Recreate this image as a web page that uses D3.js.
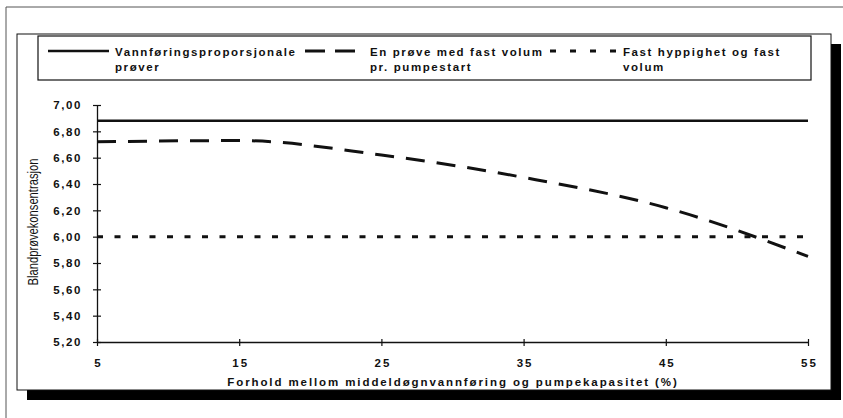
<!DOCTYPE html>
<html>
<head>
<meta charset="utf-8">
<script src="https://cdn.jsdelivr.net/npm/d3@7"></script>
<style>
  html, body { margin: 0; padding: 0; background: #fff; overflow: hidden; }
  #wrap { position: relative; width: 843px; height: 418px; }
  #shadow { position: absolute; left: 27px; top: 44px; width: 814px; height: 356px; background: #000; }
  svg { position: absolute; left: 0; top: 0; display: block; }
</style>
</head>
<body>
<div id="wrap"><div id="shadow"></div></div>
<script>
// chart size
var width = 843, height = 418;

// data
var xValues = [5, 15, 25, 35, 45, 55];
var proportional = [6.88, 6.88, 6.88, 6.88, 6.88, 6.88];   // Vannføringsproporsjonale prøver
var perPumpStart = [6.72, 6.73, 6.62, 6.45, 6.22, 5.85];   // En prøve med fast volum pr. pumpestart
var fixedFreq = [6.00, 6.00, 6.00, 6.00, 6.00, 6.00];      // Fast hyppighet og fast volum
var yTicks = [5.2, 5.4, 5.6, 5.8, 6.0, 6.2, 6.4, 6.6, 6.8, 7.0];
var legendLabels = [
  ["Vannføringsproporsjonale", "prøver"],
  ["En prøve med fast volum", "pr. pumpestart"],
  ["Fast hyppighet og fast", "volum"]
];
var xTitle = "Forhold mellom middeldøgnvannføring og pumpekapasitet (%)";
var yTitle = "Blandprøvekonsentrasjon";

var font = "'Liberation Sans', Arial, sans-serif";

var svg = d3.select("#wrap").append("svg")
    .attr("width", width)
    .attr("height", height);

// shadow strips (also in svg)
svg.append("rect").attr("x", 831).attr("y", 44)
    .attr("width", 10).attr("height", 356)
    .attr("fill", "#000");
svg.append("rect").attr("x", 27).attr("y", 390)
    .attr("width", 814).attr("height", 10)
    .attr("fill", "#000");

// white panel
svg.append("rect").attr("x", 17).attr("y", 34)
    .attr("width", 814).attr("height", 356)
    .attr("fill", "#fff")
    .attr("stroke", "#111");

// outer thin frame (top + left only)
svg.append("path")
    .attr("d", "M6,418V7H843")
    .attr("fill", "none")
    .attr("stroke", "#555")
    .attr("stroke-width", 1);

// scales
var x = d3.scaleLinear().domain([5, 55]).range([97, 808]);
var y = d3.scaleLinear().domain([5.2, 7.0]).range([342, 105]);

// y axis
var yAxis = svg.append("g")
    .attr("transform", "translate(97,0)")
    .call(d3.axisLeft(y)
        .tickValues(yTicks)
        .tickSizeOuter(0)
        .tickFormat(function (d) { return d3.format(".2f")(d).replace(".", ","); }));
yAxis.select(".domain").attr("stroke", "#111").attr("stroke-width", 1.3);
yAxis.selectAll(".tick line").attr("x1", -4).attr("x2", 4).attr("stroke", "#111").attr("stroke-width", 1.2);
yAxis.selectAll(".tick text")
    .attr("x", -15)
    .attr("fill", "#111")
    .style("font-size", "11.5px")
    .style("font-weight", "bold")
    .style("letter-spacing", "1.6px")
    .style("font-family", font);

// x axis
var xAxis = svg.append("g")
    .attr("transform", "translate(0,342)")
    .call(d3.axisBottom(x)
        .tickValues(xValues)
        .tickSizeOuter(0)
        .tickFormat(d3.format("d")));
xAxis.select(".domain").attr("stroke", "#111").attr("stroke-width", 1.3);
xAxis.selectAll(".tick line").attr("y1", -3).attr("y2", 4).attr("stroke", "#111").attr("stroke-width", 1.2);
xAxis.selectAll(".tick text")
    .attr("y", 25)
    .attr("dy", null)
    .attr("dx", "1px")
    .attr("fill", "#111")
    .style("font-size", "11.5px")
    .style("font-weight", "bold")
    .style("letter-spacing", "2px")
    .style("font-family", font);

// axis titles
svg.append("text")
    .attr("x", 453)
    .attr("y", 386)
    .attr("text-anchor", "middle")
    .attr("fill", "#111")
    .style("font-family", font)
    .style("font-size", "11.5px")
    .style("font-weight", "bold")
    .style("letter-spacing", "1.9px")
    .text(xTitle);

svg.append("text")
    .attr("transform", "translate(38,222) rotate(-90) scale(0.8,1)")
    .attr("text-anchor", "middle")
    .attr("fill", "#111")
    .style("font-family", font)
    .style("font-size", "14px")
    .text(yTitle);

// series lines
var rows = xValues.map(function (d, i) {
  return { x: d, a: proportional[i], b: perPumpStart[i], c: fixedFreq[i] };
});

var lineA = d3.line().x(function (d) { return x(d.x); }).y(function (d) { return y(d.a); });
var lineB = d3.line().x(function (d) { return x(d.x); }).y(function (d) { return y(d.b); })
    .curve(d3.curveMonotoneX);
var lineC = d3.line().x(function (d) { return x(d.x); }).y(function (d) { return y(d.c); });

svg.append("path").datum(rows)
    .attr("d", lineA)
    .attr("fill", "none").attr("stroke", "#111").attr("stroke-width", 2.6);
svg.append("path").datum(rows)
    .attr("d", lineB)
    .attr("fill", "none").attr("stroke", "#111").attr("stroke-width", 3)
    .attr("stroke-dasharray", "19,12");
svg.append("path").datum(rows)
    .attr("d", lineC)
    .attr("fill", "none").attr("stroke", "#111").attr("stroke-width", 3)
    .attr("stroke-dasharray", "6,11.5");

// legend
var legend = svg.append("g");
legend.append("rect")
    .attr("x", 38).attr("y", 36)
    .attr("width", 773).attr("height", 44)
    .attr("fill", "#fff")
    .attr("stroke", "#111")
    .attr("stroke-width", 1.2);

var sampleX = [[48, 109], [305, 355], [550, 617]];
var dashes = [null, "20,10", "6,14"];
var textX = [115, 370, 623];

legendLabels.forEach(function (lab, i) {
  legend.append("line")
      .attr("x1", sampleX[i][0]).attr("x2", sampleX[i][1])
      .attr("y1", 51).attr("y2", 51)
      .attr("stroke", "#111")
      .attr("stroke-width", i === 0 ? 2.6 : 3)
      .attr("stroke-dasharray", dashes[i]);
  lab.forEach(function (t, k) {
    legend.append("text")
        .attr("x", textX[i])
        .attr("y", 56 + k * 15)
        .attr("fill", "#111")
        .style("font-family", font)
        .style("font-size", "11.5px")
        .style("font-weight", "bold")
        .style("letter-spacing", "1.6px")
        .text(t);
  });
});
</script>
</body>
</html>
